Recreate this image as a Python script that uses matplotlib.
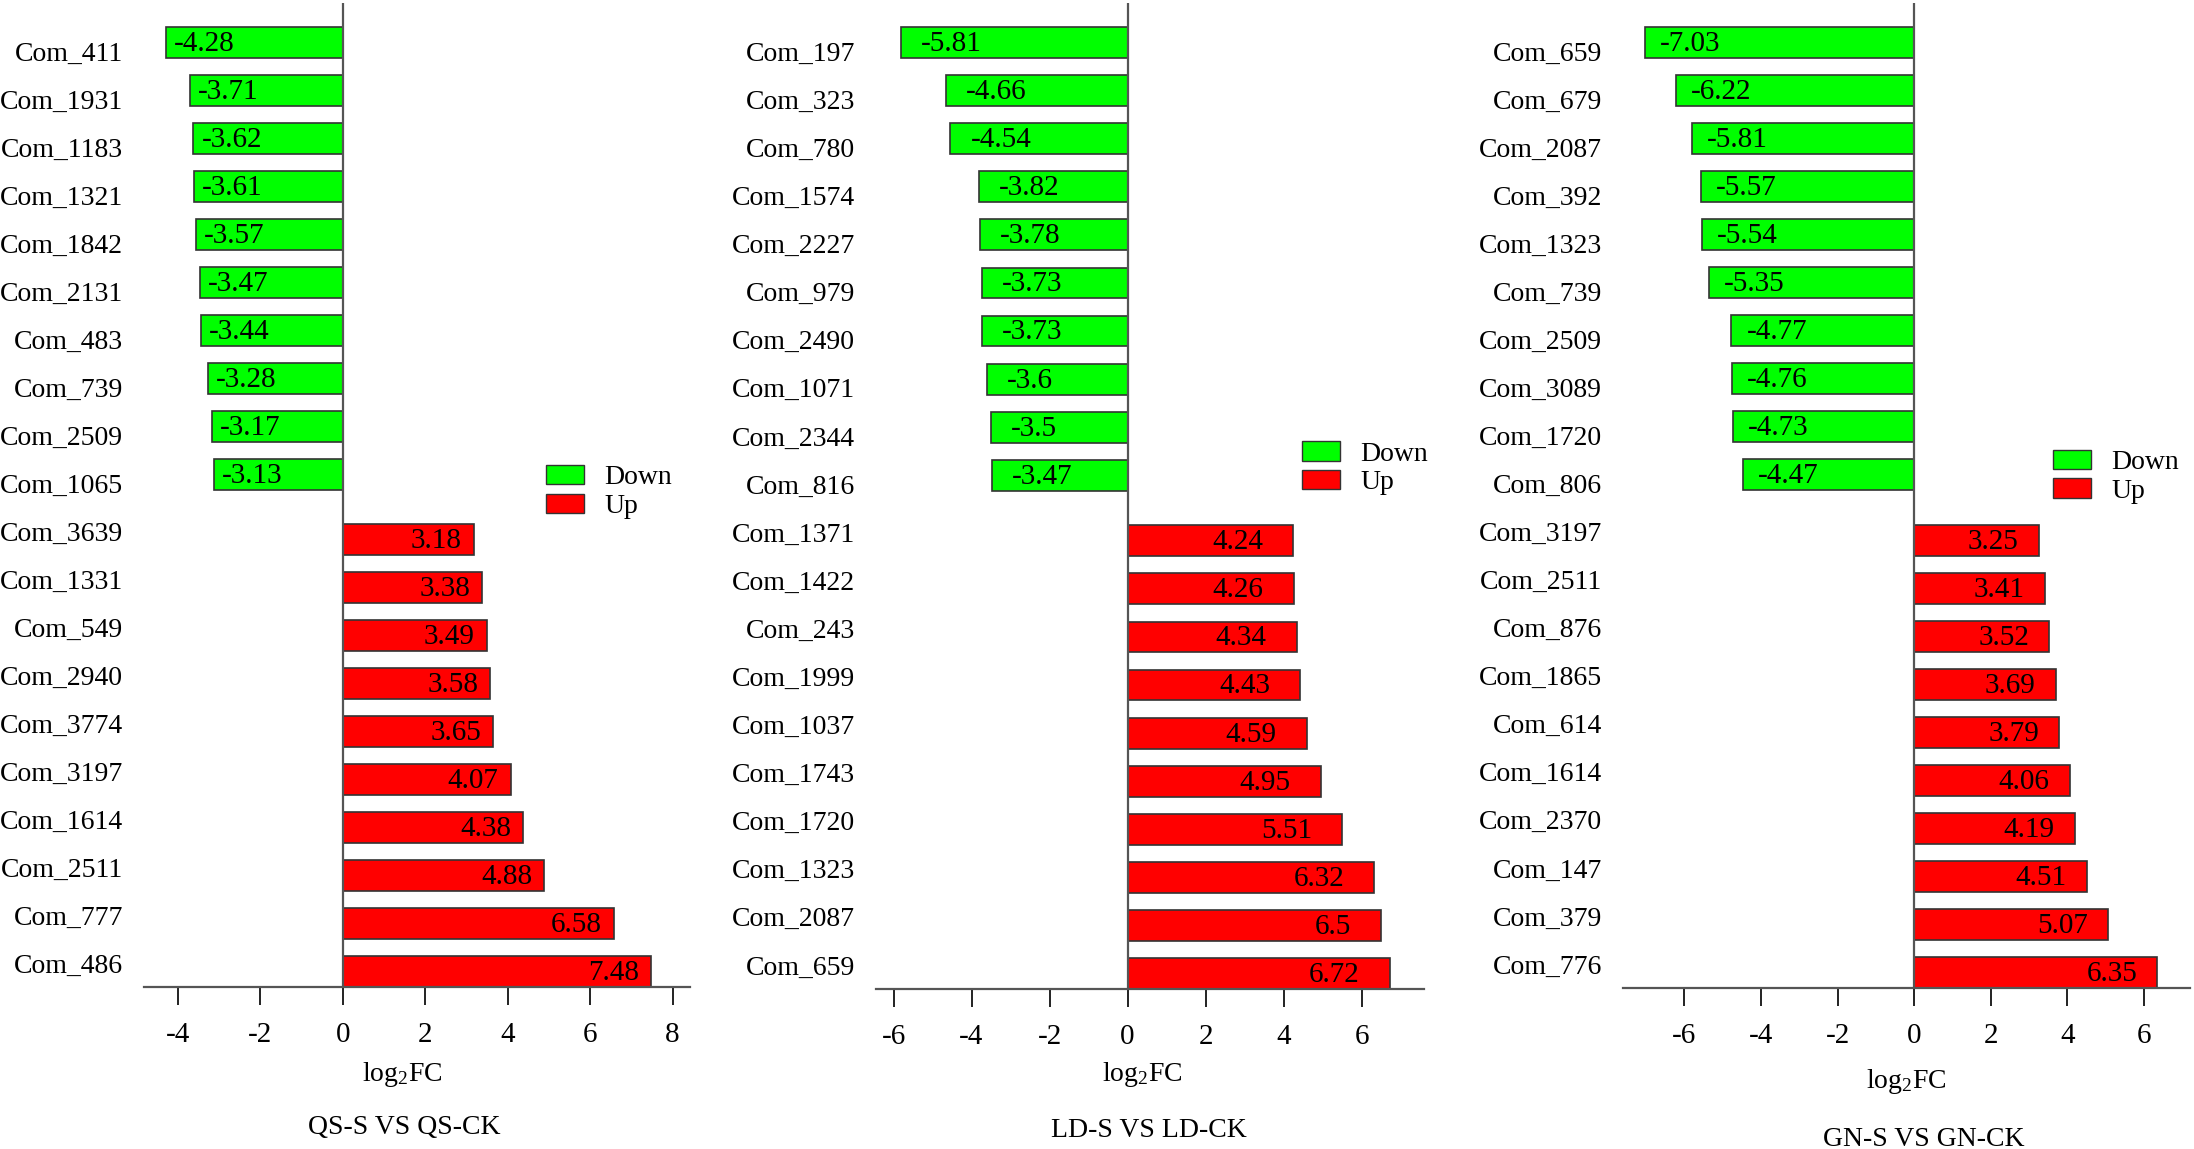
import matplotlib
matplotlib.use("Agg")
import matplotlib.pyplot as plt
from matplotlib.patches import Patch

plt.rcParams['font.family'] = ['Liberation Serif', 'DejaVu Serif']
plt.rcParams['mathtext.fontset'] = 'custom'
plt.rcParams['mathtext.rm'] = 'Liberation Serif'
plt.rcParams['mathtext.default'] = 'regular'
plt.rcParams['axes.unicode_minus'] = False

# data, top to bottom as in the chart
qs_names = ['Com_411', 'Com_1931', 'Com_1183', 'Com_1321', 'Com_1842', 'Com_2131', 'Com_483',
            'Com_739', 'Com_2509', 'Com_1065', 'Com_3639', 'Com_1331', 'Com_549', 'Com_2940',
            'Com_3774', 'Com_3197', 'Com_1614', 'Com_2511', 'Com_777', 'Com_486']
qs_vals = [-4.28, -3.71, -3.62, -3.61, -3.57, -3.47, -3.44, -3.28, -3.17, -3.13,
           3.18, 3.38, 3.49, 3.58, 3.65, 4.07, 4.38, 4.88, 6.58, 7.48]

ld_names = ['Com_197', 'Com_323', 'Com_780', 'Com_1574', 'Com_2227', 'Com_979', 'Com_2490',
            'Com_1071', 'Com_2344', 'Com_816', 'Com_1371', 'Com_1422', 'Com_243', 'Com_1999',
            'Com_1037', 'Com_1743', 'Com_1720', 'Com_1323', 'Com_2087', 'Com_659']
ld_vals = [-5.81, -4.66, -4.54, -3.82, -3.78, -3.73, -3.73, -3.6, -3.5, -3.47,
           4.24, 4.26, 4.34, 4.43, 4.59, 4.95, 5.51, 6.32, 6.5, 6.72]

gn_names = ['Com_659', 'Com_679', 'Com_2087', 'Com_392', 'Com_1323', 'Com_739', 'Com_2509',
            'Com_3089', 'Com_1720', 'Com_806', 'Com_3197', 'Com_2511', 'Com_876', 'Com_1865',
            'Com_614', 'Com_1614', 'Com_2370', 'Com_147', 'Com_379', 'Com_776']
gn_vals = [-7.03, -6.22, -5.81, -5.57, -5.54, -5.35, -4.77, -4.76, -4.73, -4.47,
           3.25, 3.41, 3.52, 3.69, 3.79, 4.06, 4.19, 4.51, 5.07, 6.35]

titles = ['QS-S VS QS-CK', 'LD-S VS LD-CK', 'GN-S VS GN-CK']
xticks = [[-4, -2, 0, 2, 4, 6, 8], [-6, -4, -2, 0, 2, 4, 6], [-6, -4, -2, 0, 2, 4, 6]]
xlims = [(-4.82, 8.42), (-6.45, 7.6), (-7.6, 7.2)]

GREEN = '#00ff00'
RED = '#ff0000'
FS = 20      # category labels, legend
FS_VAL = 21  # numbers in the bars
FS_TICK = 21

W, H = 2194, 1149
fig = plt.figure(figsize=(W / 100, H / 100), dpi=100)

# axes boxes in pixels: left, right, top, bottom
boxes = [(144, 690, 3, 987), (876, 1424, 3, 989), (1623, 2190, 3, 988)]
# per panel: green label inset, red label inset (px), legend anchor, label/title positions
extras = [
    dict(gin=8, rin=12, leg=(0.736, 0.503), xl=0.473, tl=0.476, yl=-0.089, ty=-0.143),
    dict(gin=20, rin=30, leg=(0.777, 0.528), xl=0.485, tl=0.498, yl=-0.087, ty=-0.144),
    dict(gin=15, rin=20, leg=(0.758, 0.519), xl=0.50, tl=0.53, yl=-0.095, ty=-0.154),
]

panels = [(qs_names, qs_vals), (ld_names, ld_vals), (gn_names, gn_vals)]

for i, (names, vals) in enumerate(panels):
    l, r, t, b = boxes[i]
    ex = extras[i]
    ax = fig.add_axes([l / W, 1 - b / H, (r - l) / W, (b - t) / H])
    pos = list(range(len(names)))
    # two series side by side per category, like a clustered bar chart
    down_y = [p - 0.18 for p, v in zip(pos, vals) if v < 0]
    down_v = [v for v in vals if v < 0]
    up_y = [p + 0.18 for p, v in zip(pos, vals) if v > 0]
    up_v = [v for v in vals if v > 0]
    ax.barh(down_y, down_v, height=0.64, color=GREEN, edgecolor='#333333', linewidth=1.2, zorder=2)
    ax.barh(up_y, up_v, height=0.64, color=RED, edgecolor='#333333', linewidth=1.2, zorder=2)

    for y, v in zip(down_y, down_v):
        ax.annotate(f"{v:g}", (v, y), xytext=(ex['gin'] * 0.72, -1), textcoords='offset points',
                    ha='left', va='center', fontsize=FS_VAL, color='black', zorder=4)
    for y, v in zip(up_y, up_v):
        ax.annotate(f"{v:g}", (v, y), xytext=(-ex['rin'] * 0.72, -1), textcoords='offset points',
                    ha='right', va='center', fontsize=FS_VAL, color='black', zorder=4)

    ax.axvline(0, color='#555555', lw=1.6, zorder=3)
    ax.set_xlim(*xlims[i])
    ax.set_ylim(19.5, -1.0)
    ax.set_yticks(pos)
    ax.set_yticklabels(names, fontsize=FS)
    ax.tick_params(axis='y', length=0, pad=15)
    ax.set_xticks(xticks[i])
    ax.set_xticklabels([str(x) for x in xticks[i]], fontsize=FS_TICK)
    ax.tick_params(axis='x', direction='out', length=13, width=1.4, pad=12, color='#222222')
    for s in ['left', 'top', 'right']:
        ax.spines[s].set_visible(False)
    ax.spines['bottom'].set_color('#555555')
    ax.spines['bottom'].set_linewidth(1.6)

    ax.text(ex['xl'], ex['yl'], 'log$_2$FC', transform=ax.transAxes, ha='center', va='center',
            fontsize=FS)
    ax.text(ex['tl'], ex['ty'], titles[i], transform=ax.transAxes, ha='center', va='center',
            fontsize=FS)

    handles = [Patch(facecolor=GREEN, edgecolor='#333333', label='Down'),
               Patch(facecolor=RED, edgecolor='#333333', label='Up')]
    ax.legend(handles=handles, loc='center left', bbox_to_anchor=ex['leg'], frameon=False,
              fontsize=FS, handlelength=1.38, handleheight=0.68, handletextpad=0.72,
              labelspacing=0.12, borderpad=0, borderaxespad=0)

fig.savefig('out.png', dpi=100)
